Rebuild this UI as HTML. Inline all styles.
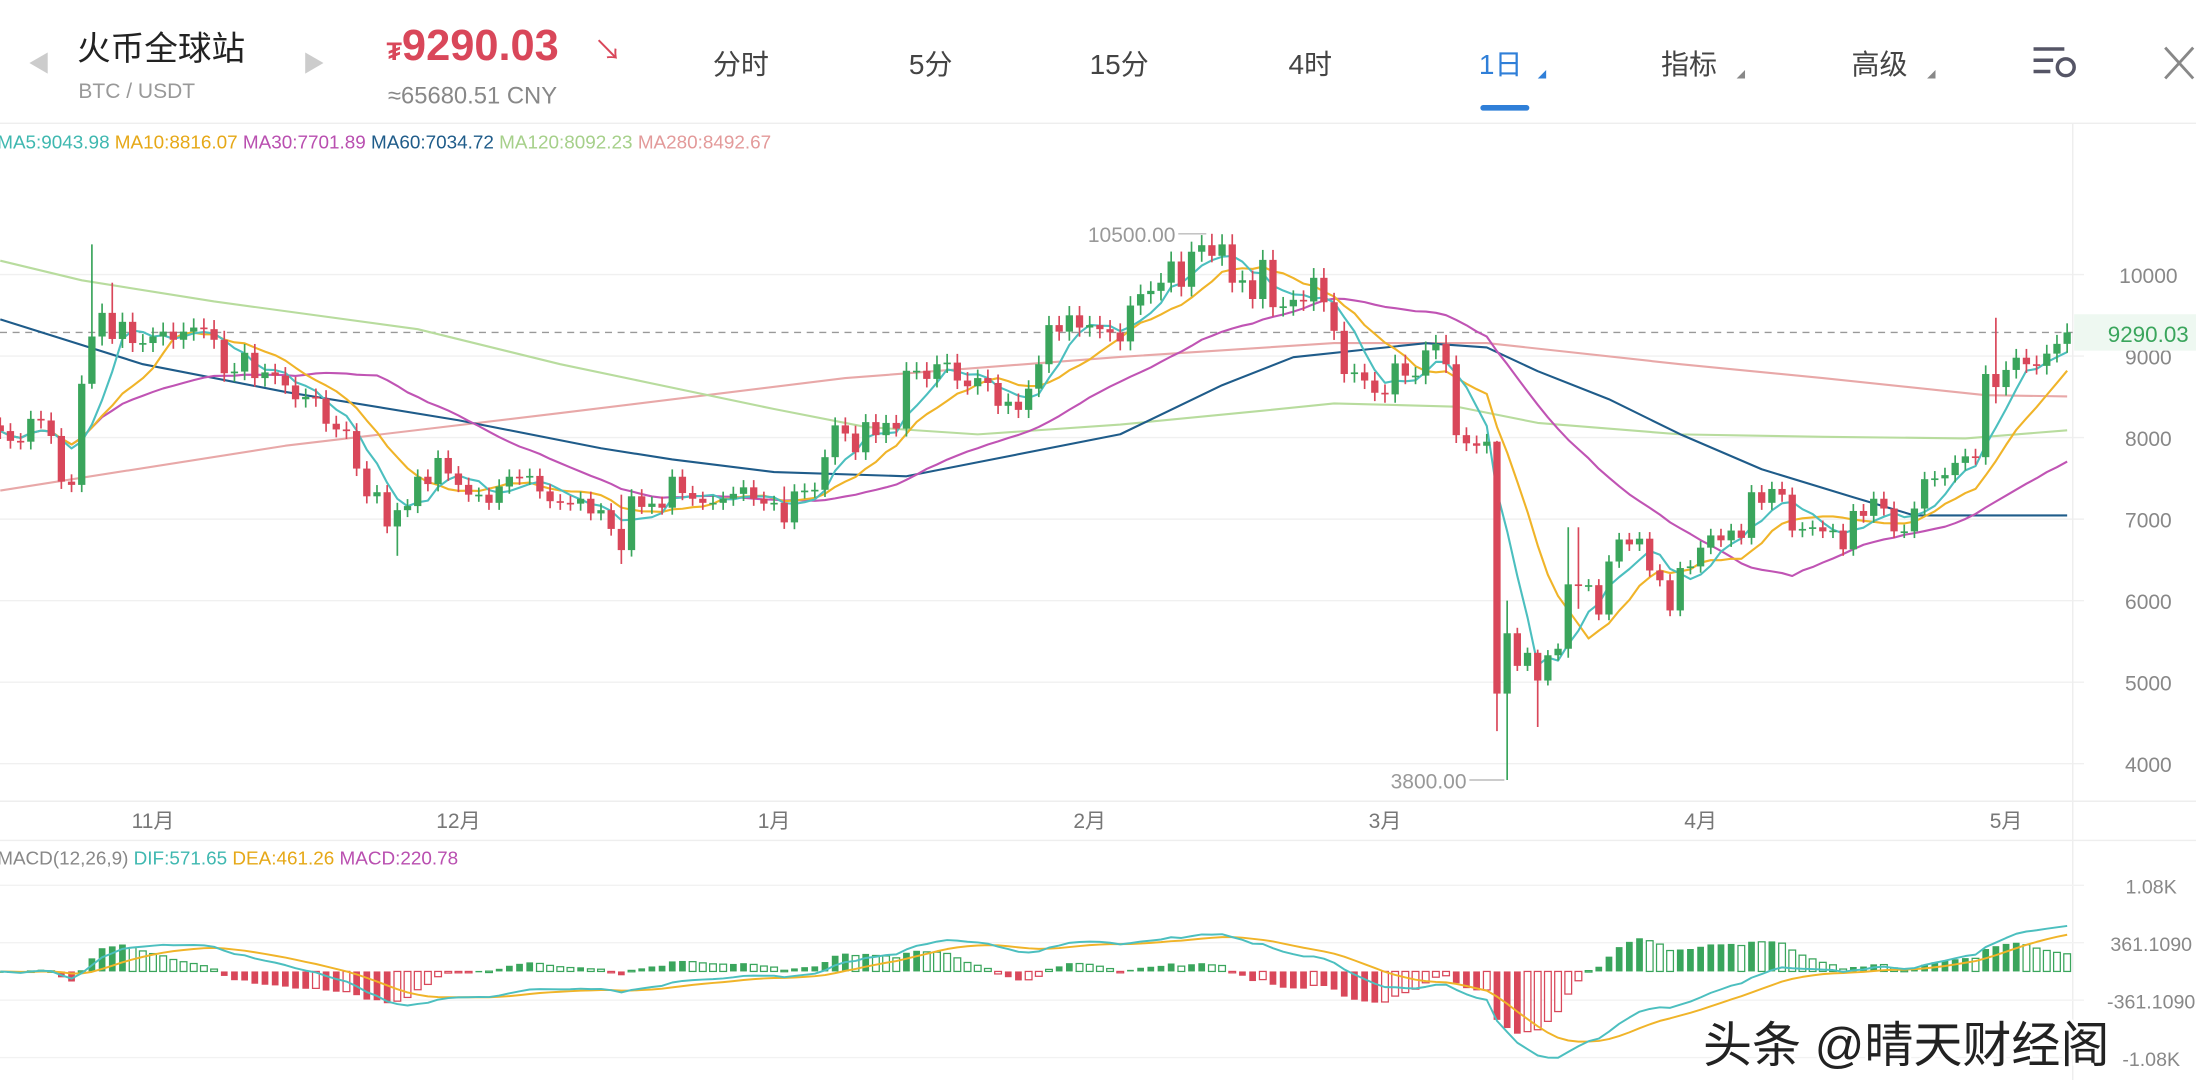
<!DOCTYPE html>
<html><head><meta charset="utf-8"><style>
html,body{margin:0;padding:0;background:#fff;overflow:hidden}
svg{display:block}
text{font-family:"Liberation Sans","Noto Sans CJK SC",sans-serif}
</style></head><body>
<svg id="chart" width="2196" height="1080" viewBox="0 0 1568 771" preserveAspectRatio="none" xmlns="http://www.w3.org/2000/svg">
<rect x="0" y="0" width="1568" height="771" fill="#fff"/>
<g>
  <text x="20" y="51" font-size="16" fill="#ccc">◀</text>
  <text x="55" y="43" font-size="24" fill="#222">火币全球站</text>
  <text x="56" y="70" font-size="15" fill="#999">BTC / USDT</text>
  <text x="216" y="51" font-size="16" fill="#ccc">▶</text>
  <text x="276" y="43" font-size="31" font-weight="bold" fill="#d9475a"><tspan font-size="18">₮</tspan>9290.03</text>
  <text x="424" y="43" font-size="20" fill="#d9475a">↘</text>
  <text x="277" y="74" font-size="17" fill="#888">≈65680.51 CNY</text>
  <text x="509" y="53" font-size="20" fill="#444">分时</text>
  <text x="649" y="53" font-size="20" fill="#444">5分</text>
  <text x="778" y="53" font-size="20" fill="#444">15分</text>
  <text x="920" y="53" font-size="20" fill="#444">4时</text>
  <text x="1056" y="53" font-size="20" fill="#2f7fd8">1日</text>
  <path d="M1098 56 L1104 50 L1104 56 Z" fill="#2f7fd8"/>
  <rect x="1057" y="75" width="35" height="4" rx="2" fill="#2f7fd8"/>
  <text x="1186" y="53" font-size="20" fill="#444">指标</text>
  <path d="M1240 56 L1246 50 L1246 56 Z" fill="#888"/>
  <text x="1322" y="53" font-size="20" fill="#444">高级</text>
  <path d="M1376 56 L1382 50 L1382 56 Z" fill="#888"/>
  <g stroke="#556" stroke-width="2.5" fill="none">
    <line x1="1452" y1="35" x2="1474" y2="35"/><line x1="1452" y1="43" x2="1466" y2="43"/><line x1="1452" y1="51" x2="1464" y2="51"/>
    <circle cx="1475" cy="48" r="6"/>
  </g>
  <g stroke="#888" stroke-width="2">
    <line x1="1546" y1="34" x2="1566" y2="56"/><line x1="1566" y1="34" x2="1546" y2="56"/>
  </g>
  <line x1="0" y1="88" x2="1568" y2="88" stroke="#eee" stroke-width="1"/>
</g>
<g font-size="13.5">
  <text x="-2" y="106"><tspan fill="#3fb8b0">MA5:9043.98 </tspan><tspan fill="#e6a817">MA10:8816.07 </tspan><tspan fill="#b94fb0">MA30:7701.89 </tspan><tspan fill="#1f5c8a">MA60:7034.72 </tspan><tspan fill="#a6d08a">MA120:8092.23 </tspan><tspan fill="#e39a9a">MA280:8492.67</tspan></text>
</g>
<g id="grid"></g>
<g id="axes"></g>
<g id="malines"></g>
<g id="candles"></g>
<g id="macd"></g>
<text x="-2" y="617" font-size="13.5"><tspan fill="#888">MACD(12,26,9) </tspan><tspan fill="#3fb8b0">DIF:571.65 </tspan><tspan fill="#e6a817">DEA:461.26 </tspan><tspan fill="#b94fb0">MACD:220.78</tspan></text>
<text x="1216" y="758" font-size="35" fill="#222" stroke="#fff" stroke-width="4" paint-order="stroke">头条 @晴天财经阁</text>
</svg>
<script>
const closes = [
8080,7960,7950,8230,8210,8020,7460,7420,8660,9240,9530,9210,9420,9160,9160,
9240,9300,9200,9300,9350,9330,9200,8790,8810,9040,8730,8800,8760,8640,8470,8500,8480,8170,8100,8080,7620,7280,7330,6910,7110,7160,7520,7430,7750,7560,
7420,7300,7300,7200,7400,7520,7510,7530,7340,7220,7200,7190,7250,7070,7110,6880,6620,7280,7150,7190,7140,7520,7320,7250,7200,7200,7250,7310,7390,7250,7190,
7200,6960,7340,7350,7360,7760,8150,8050,7820,8190,8030,8180,8110,8820,8820,8720,8900,8920,8700,8630,8730,8670,8390,8440,8340,8600,8900,9380,9300,9500,9350,
9380,9330,9290,9180,9620,9760,9800,9900,10160,9850,10280,10360,10230,10370,9900,9930,9700,10180,9600,9610,9690,9670,9960,9660,9310,8780,8800,8700,8550,
8530,8910,8760,8760,9070,9150,8900,8030,7930,7900,7950,4860,5600,5200,5360,5020,5330,5410,6200,6190,6190,5830,6480,6750,6690,6760,6370,6250,5880,6400,6420,
6650,6800,6740,6860,6770,7330,7200,7370,7300,6860,6880,6900,6850,6860,6630,7100,7040,7250,7130,6850,6850,7130,7490,7500,7540,7690,7770,7760,8780,8620,
8830,8980,8900,8880,9030,9150,9290.03];
const firstOpen = 8150;
const wickIdx = [9, 11, 39, 61, 77, 119, 147, 148, 151, 154, 155, 196];
const wickHi  = [10370, 9900, 7200, 7300, 7400, 10500, 7960, 6000, 5400, 6900, 6900, 9470];
const wickLo  = [8600, 9150, 6550, 6450, 6880, 10150, 4400, 3800, 4450, 5300, 5900, 8420];
const priceTicks = [4000,5000,6000,7000,8000,9000,10000];
const monthNames = ['11月','12月','1月','2月','3月','4月','5月'];
const monthIdx = [15,45,76,107,136,167,197];
const ma60Idx = [0,14,28,45,59,66,76,89,96,110,120,127,140,146,151,158,165,173,182,188,203];
const ma60Val = [9450,8900,8560,8213,7869,7732,7577,7526,7698,8041,8643,8986,9158,9107,8814,8471,8041,7612,7268,7045,7045];
const ma120Idx = [0,8,21,41,55,76,85,96,110,124,131,143,151,165,179,193,203];
const ma120Val = [10170,9930,9670,9330,8900,8350,8130,8040,8160,8330,8420,8380,8180,8040,8010,7990,8090];
const ma280Idx = [0,28,55,83,110,131,146,165,179,195,203];
const ma280Val = [7350,7900,8300,8730,8990,9160,9160,8900,8730,8520,8505];
const macdTicks = [1080, 361, -361, -1080];
const macdTickLabels = ['1.08K','361.1090','-361.1090','-1.08K'];

const NS='http://www.w3.org/2000/svg';
const N = closes.length;
const X0 = 1476, STEP = 7.27;
function xOf(i){ return X0 - (N-1-i)*STEP; }
function yOf(v){ return 196 + (10000 - v)*0.0582; }
function yMacd(v){ return 693.5 - v*(61.5/1080); }
function mk(tag, attrs, parent){ const e=document.createElementNS(NS,tag); for(const k in attrs) e.setAttribute(k,attrs[k]); parent.appendChild(e); return e; }
const G = id=>document.getElementById(id);

const grid=G('grid'), axes=G('axes');
priceTicks.forEach(v=>{
  const l=mk('line',{x1:0,x2:1488,y1:yOf(v),y2:yOf(v),stroke:'#f0f0f0','stroke-width':1},grid);
  
  
  const t=mk('text',{x:1534,y:yOf(v)+6,'font-size':15,fill:'#888','text-anchor':'middle'},axes);
  t.textContent=v;
  
  
});
mk('line',{x1:0,x2:1568,y1:572,y2:572,stroke:'#eee'},grid);
mk('line',{x1:0,x2:1568,y1:600,y2:600,stroke:'#eee'},grid);
mk('line',{x1:1480,x2:1480,y1:88,y2:771,stroke:'#eee'},grid);
monthIdx.forEach((mi,k)=>{
  const t=mk('text',{x:xOf(mi),y:591,'font-size':15,fill:'#777','text-anchor':'middle'},axes);
  t.textContent=monthNames[k];
  
  
});
const lastC = closes[N-1];
mk('line',{x1:0,x2:1480,y1:yOf(lastC),y2:yOf(lastC),stroke:'#999','stroke-dasharray':'5,4','stroke-width':1},axes);
const pb=mk('rect',{x:1481,y:yOf(lastC)-13,width:87,height:26,fill:'#eef8f1'},axes);


const pt=mk('text',{x:1505,y:yOf(lastC)+7,'font-size':16,fill:'#3aa55c'},axes);
pt.textContent=lastC.toFixed(2);



const cg=G('candles');
const opens=[], highs=[], lows=[];
for(let i=0;i<N;i++){
  const o = i===0 ? firstOpen : closes[i-1], c=closes[i];
  let h=Math.max(o,c)*1.012, l=Math.min(o,c)*0.988;
  const w=wickIdx.indexOf(i);
  if(w>=0){ h=wickHi[w]; l=wickLo[w]; }
  opens.push(o); highs.push(h); lows.push(l);
  const col = c>=o ? '#3aa55c' : '#d9475a';
  const x=xOf(i);
  const g=mk('g',{},cg);
  
  
  mk('line',{x1:x,x2:x,y1:yOf(h),y2:yOf(l),stroke:col,'stroke-width':1.2},g);
  const yt=yOf(Math.max(o,c)), yb=yOf(Math.min(o,c));
  mk('rect',{x:x-2.6,y:yt,width:5.2,height:Math.max(1.2,yb-yt),fill:col},g);
}
let hiI=0,loI=0; for(let i=0;i<N;i++){ if(highs[i]>highs[hiI])hiI=i; if(lows[i]<lows[loI])loI=i; }
const hl=mk('text',{x:xOf(hiI)-26,y:yOf(highs[hiI])+6,'font-size':15,fill:'#999','text-anchor':'end'},axes);
hl.textContent=highs[hiI].toFixed(2);


mk('line',{x1:xOf(hiI)-24,x2:xOf(hiI)-4,y1:yOf(highs[hiI]),y2:yOf(highs[hiI]),stroke:'#bbb'},axes);
const ll=mk('text',{x:xOf(loI)-29,y:yOf(lows[loI])+6,'font-size':15,fill:'#999','text-anchor':'end'},axes);
ll.textContent=lows[loI].toFixed(2);


mk('line',{x1:xOf(loI)-27,x2:xOf(loI)-2,y1:yOf(lows[loI]),y2:yOf(lows[loI]),stroke:'#bbb'},axes);

const mg=G('malines');
function sma(n){ return closes.map((_,i)=>{ const s=Math.max(0,i-n+1); let t=0; for(let k=s;k<=i;k++)t+=closes[k]; return t/(i-s+1); }); }
function drawLine(idx, vals, col, name, yf, parent, w){
  const d=vals.map((v,k)=>(k?'L':'M')+xOf(idx[k]).toFixed(1)+' '+yf(v).toFixed(1)).join(' ');
  const p=mk('path',{d:d,fill:'none',stroke:col,'stroke-width':w||1.5,'stroke-linejoin':'round'},parent);
  
  
}
const allIdx=closes.map((_,i)=>i);
drawLine(ma280Idx,ma280Val,'#e8a8a8','ma280-line',yOf,mg);
drawLine(ma120Idx,ma120Val,'#b8dc9e','ma120-line',yOf,mg);
drawLine(ma60Idx,ma60Val,'#1f5c8a','ma60-line',yOf,mg);
drawLine(allIdx,sma(30),'#c054b4','ma30-line',yOf,mg);
drawLine(allIdx,sma(10),'#f0b429','ma10-line',yOf,mg);
drawLine(allIdx,sma(5),'#4cbfbf','ma5-line',yOf,mg);

const mcg=G('macd');
macdTicks.forEach((v,k)=>{
  mk('line',{x1:0,x2:1488,y1:yMacd(v),y2:yMacd(v),stroke:'#f2f2f2'},mcg);
  const t=mk('text',{x:1536,y:yMacd(v)+6,'font-size':14,fill:'#888','text-anchor':'middle'},mcg);
  t.textContent=macdTickLabels[k];
  
  
});
function ema(arr,n){ const a=2/(n+1); const out=[]; arr.forEach((v,i)=>out.push(i?out[i-1]+a*(v-out[i-1]):v)); return out; }
const e12=ema(closes,12), e26=ema(closes,26);
const dif=e12.map((v,i)=>v-e26[i]);
const dea=ema(dif,9);
const hist=dif.map((v,i)=>2*(v-dea[i]));
hist.forEach((v,i)=>{
  const x=xOf(i), y0=yMacd(0), y1=yMacd(v);
  const prev=i?hist[i-1]:0;
  const col=v>=0?'#3aa55c':'#d9475a';
  const hollow = Math.abs(v) < Math.abs(prev);
  const r=mk('rect',{x:x-2.4,y:Math.min(y0,y1),width:4.8,height:Math.max(1,Math.abs(y1-y0)),
    fill:hollow?'#fff':col,stroke:col,'stroke-width':hollow?0.9:0},mcg);
  
  
});
drawLine(allIdx,dea,'#f0b429','dea-line',yMacd,mcg,1.4);
drawLine(allIdx,dif,'#4cbfbf','dif-line',yMacd,mcg,1.4);
</script>
</body></html>
